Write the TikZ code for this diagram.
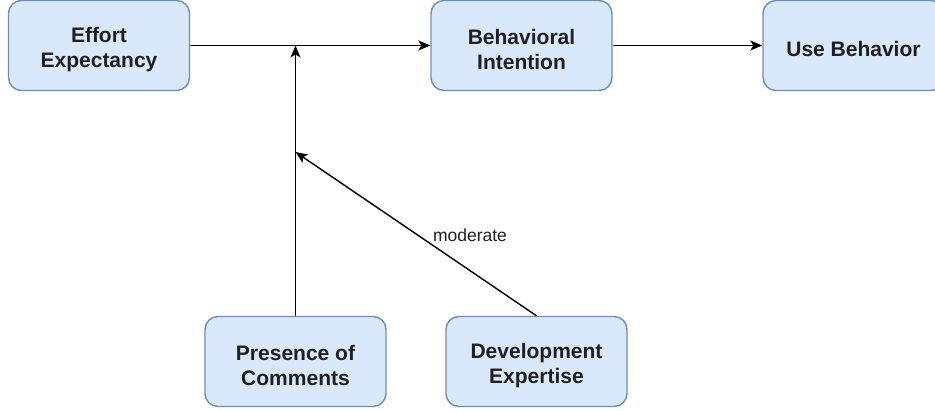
\documentclass[tikz,border=0pt]{standalone}
\usepackage{fontspec}
\setmainfont{Liberation Sans}
\usetikzlibrary{arrows.meta}
\definecolor{boxfill}{HTML}{DAE8FC}
\definecolor{boxline}{HTML}{6C8EBF}
\definecolor{txt}{HTML}{1F1F1F}
\tikzset{
  box/.style={draw=boxline, fill=boxfill, line width=1.4pt, rounded corners=13pt,
    minimum width=181pt, minimum height=90pt, inner sep=0pt, align=center,
    text=txt, font=\fontsize{21}{25}\selectfont\bfseries, text height=48.5pt},
  oneline/.style={text height=21.5pt},
  conn/.style={draw=black, line width=1.4pt, -{Stealth[length=12pt, width=10pt, inset=3pt]}},
  lbl/.style={text=txt, font=\fontsize{17.5}{21}\selectfont}
}
\begin{document}
\begin{tikzpicture}[x=1pt, y=-1pt]
\useasboundingbox (0,0) rectangle (935,410);
\clip (0,0) rectangle (935,410);
\node[box] (ee) at (99,45.5) {Effort\\Expectancy};
\node[box] (bi) at (521.5,45.5) {Behavioral\\Intention};
\node[box, oneline] (ub) at (853.5,45.5) {Use Behavior};
\node[box] (pc) at (295.5,361.5) {Presence of\\Comments};
\node[box] (de) at (536.5,361.5) {Development\\Expertise};
\coordinate (j) at (295.5,45.5);
\coordinate (m) at (295.5,152);
\draw[conn] (ee.east) -- (bi.west);
\draw[conn] (bi.east) -- (ub.west);
\draw[conn] (pc.north) -- (j);
\draw[conn] (de.north) -- node[lbl, pos=0.276, yshift=35pt] {moderate} (m);
\end{tikzpicture}
\end{document}
